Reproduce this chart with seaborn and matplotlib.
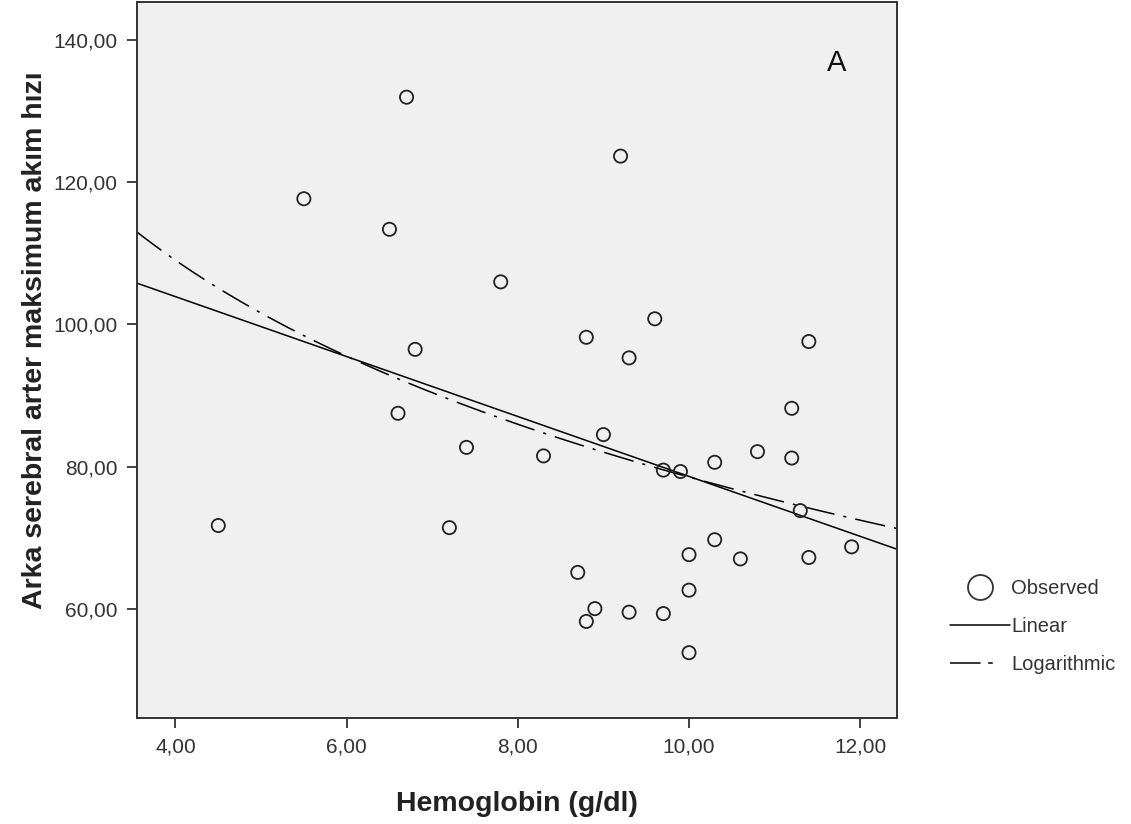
import matplotlib
matplotlib.use("Agg")
from matplotlib import pyplot as plt
from matplotlib.lines import Line2D
from matplotlib.ticker import FuncFormatter
import pandas as pd
import seaborn as sns
import numpy as np

# hemoglobin (g/dl) vs arka serebral arter maksimum akim hizi
hemoglobin = [4.5, 5.5, 6.5, 6.6, 6.7, 6.8, 7.2, 7.4, 7.8, 8.3, 8.7, 8.8,
              8.8, 8.9, 9.0, 9.2, 9.3, 9.3, 9.6, 9.7, 9.7, 9.9, 10.0, 10.0,
              10.0, 10.3, 10.3, 10.6, 10.8, 11.2, 11.2, 11.3, 11.4, 11.4, 11.9]
akim_hizi = [71.7, 117.7, 113.4, 87.5, 132.0, 96.5, 71.4, 82.7, 106.0, 81.5,
             65.1, 98.2, 58.2, 60.0, 84.5, 123.7, 95.3, 59.5, 100.8, 79.5,
             59.3, 79.3, 67.6, 62.6, 53.8, 80.6, 69.7, 67.0, 82.1, 88.2,
             81.2, 73.8, 97.6, 67.2, 68.7]

x_ticks = [4, 6, 8, 10, 12]
y_ticks = [60, 80, 100, 120, 140]
legend_labels = ["Observed", "Linear", "Logarithmic"]

df = pd.DataFrame({"hb": hemoglobin, "hiz": akim_hizi})

sns.set_style("white")
plt.rcParams['font.family'] = ['Liberation Sans', 'DejaVu Sans']

fig = plt.figure(figsize=(11.31, 8.24), dpi=100)
ax = fig.add_axes([0.1211, 0.1286, 0.6720, 0.8690])
ax.set_facecolor("#f0f0f0")
ax.set_xlim(3.55, 12.43)
ax.set_ylim(44.6, 145.4)

sns.scatterplot(data=df, x="hb", y="hiz", ax=ax, marker="o", s=90,
                facecolor="none", edgecolor="#222222", linewidth=1.3,
                legend=False, zorder=3)
# linear fit over the whole axis
sns.regplot(data=df, x="hb", y="hiz", ax=ax, scatter=False, ci=None,
            truncate=False, line_kws={"color": "black", "lw": 1.1})
# logarithmic fit
sns.regplot(data=df, x="hb", y="hiz", ax=ax, scatter=False, ci=None,
            logx=True, truncate=False,
            line_kws={"color": "black", "lw": 1.1,
                      "linestyle": (0, (20, 6, 2, 6))})

ax.set_xlim(3.55, 12.43)
ax.set_ylim(44.6, 145.4)
ax.set_xticks(x_ticks)
ax.set_yticks(y_ticks)
fmt = FuncFormatter(lambda v, p: "{:.2f}".format(v).replace(".", ","))
ax.xaxis.set_major_formatter(fmt)
ax.yaxis.set_major_formatter(fmt)
ax.tick_params(axis="both", direction="out", length=7, width=1.3,
               color="#333333", labelsize=15, labelcolor="#333333",
               bottom=True, left=True, top=False, right=False, pad=7)
for s in ax.spines.values():
    s.set_color("#333333")
    s.set_linewidth(1.4)

ax.set_xlabel("Hemoglobin (g/dl)", fontsize=20.5, fontweight="bold",
              color="#222222", labelpad=25)
ax.set_ylabel("Arka serebral arter maksimum akım hızı", fontsize=20.5,
              fontweight="bold", color="#222222", labelpad=4, y=0.528)

ax.text(0.92, 0.915, "A", transform=ax.transAxes, fontsize=21,
        color="#111111", ha="center", va="center")

handles = [
    Line2D([], [], marker="o", linestyle="none", markersize=18,
           markerfacecolor="none", markeredgecolor="#333333", markeredgewidth=1.3),
    Line2D([], [], color="black", lw=1.1),
    Line2D([], [], color="black", lw=1.1, linestyle=(0, (20, 5, 3, 30))),
]
fig.legend(handles, legend_labels, loc="center left",
           bbox_to_anchor=(0.824, 0.24), frameon=False, fontsize=14.5,
           handlelength=3.0, handletextpad=0.05, labelspacing=0.95,
           labelcolor="#333333")

plt.savefig("out.png", dpi=100)
